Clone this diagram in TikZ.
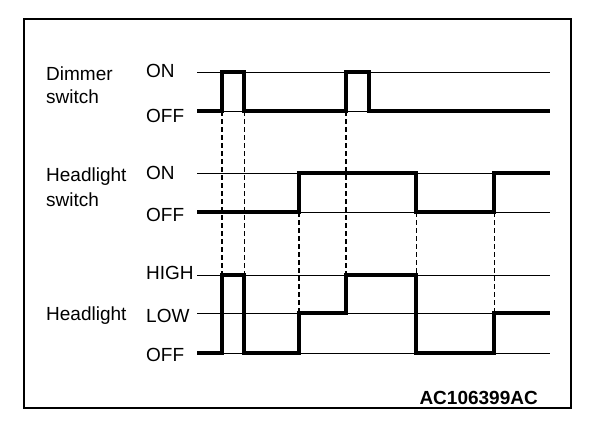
\documentclass[tikz,border=0pt]{standalone}
\usepackage{fontspec}
\setmainfont{Liberation Sans}
\begin{document}
\begin{tikzpicture}[x=1pt,y=-1pt,
  lbl/.style={font=\fontsize{19}{19}\selectfont, inner sep=0pt, anchor=base west},
  code/.style={font=\bfseries\fontsize{19}{19}\selectfont, inner sep=0pt, anchor=base east},
  lvl/.style={line width=0.9pt},
  sig/.style={line width=3.3pt, line join=miter},
  dthick/.style={line width=1.8pt, dash pattern=on 5pt off 3pt},
  dthin/.style={line width=0.8pt, dash pattern=on 5pt off 3pt}]
\useasboundingbox (0,0) rectangle (608,426);
\draw[line width=1.4pt] (24,19) rectangle (571,408);
% level lines
\foreach \y in {72,111,173,212,275,313,353}
  \draw[lvl] (197,\y) -- (550,\y);
% dashed guides
\draw[dthick] (222,111) -- (222,275);
\draw[dthin]  (244,111) -- (244,275);
\draw[dthick] (346,111) -- (346,275);
\draw[dthick] (299,212) -- (299,313);
\draw[dthin]  (416,212) -- (416,275);
\draw[dthin]  (494,212) -- (494,313);
% signals
\draw[sig] (197,111) -- (222,111) -- (222,72) -- (244,72) -- (244,111) -- (346,111) -- (346,72) -- (369,72) -- (369,111) -- (550,111);
\draw[sig] (197,212) -- (299,212) -- (299,173) -- (416,173) -- (416,212) -- (494,212) -- (494,173) -- (550,173);
\draw[sig] (197,353) -- (222,353) -- (222,275) -- (244,275) -- (244,353) -- (299,353) -- (299,313) -- (346,313) -- (346,275) -- (416,275) -- (416,353) -- (494,353) -- (494,313) -- (550,313);
% labels
\node[lbl] (d1) at (46,80) {Dimmer};
\node[lbl] (d2) at (46,103) {switch};
\node[lbl] (don) at (146,77) {ON};
\node[lbl] (doff) at (146,122) {OFF};
\node[lbl] (h1) at (46,181) {Headlight};
\node[lbl] (h2) at (46,206) {switch};
\node[lbl] (hon) at (146,179) {ON};
\node[lbl] (hoff) at (146,221) {OFF};
\node[lbl] (l1) at (46,320) {Headlight};
\node[lbl] (lhigh) at (146,279) {HIGH};
\node[lbl] (llow) at (146,322) {LOW};
\node[lbl] (loff) at (146,361) {OFF};
\node[code] (id) at (538,404) {AC106399AC};
\end{tikzpicture}
\end{document}
